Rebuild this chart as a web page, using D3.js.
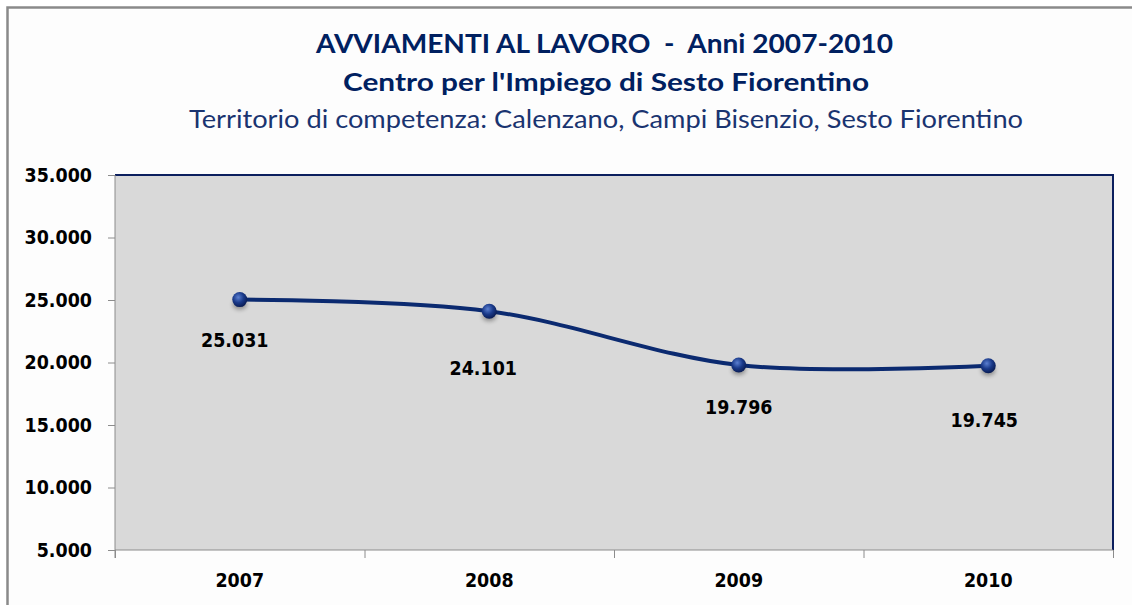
<!DOCTYPE html>
<html>
<head>
<meta charset="utf-8">
<script src="https://cdn.jsdelivr.net/npm/d3@7"></script>
<style>
  body { margin: 0; background: #fff; }
  svg { display: block; }
  .num { font-family: "DejaVu Sans", Verdana, sans-serif; font-weight: bold; font-size: 17.5px; fill: #000; }
  .title { white-space: pre; }
</style>
</head>
<body>
<div id="chart-area"></div>
<script>
// data
const years = ["2007", "2008", "2009", "2010"];
const avviamenti = [25031, 24101, 19796, 19745];
const yTicks = [5000, 10000, 15000, 20000, 25000, 30000, 35000];
const titles = [
  "AVVIAMENTI AL LAVORO  -  Anni 2007-2010",
  "Centro per l'Impiego di Sesto Fiorentino",
  "Territorio di competenza: Calenzano, Campi Bisenzio, Sesto Fiorentino"
];

// manual label placement (pixels relative to the point)
const labelDx = [-5, -6, 0, -4];
const labelDy = [40, 57, 42, 54];

const W = 1132, H = 605;
const margin = {left: 115, right: 19, top: 175, bottom: 55};
const width = W - margin.left - margin.right;
const height = H - margin.top - margin.bottom;
const stretch = "scale(1,1.15)"; // the original text is a bit taller than wide

const itFmt = d3.formatLocale({decimal: ",", thousands: ".", grouping: [3], currency: ["€", ""]}).format(",d");

const svg = d3.select("#chart-area").append("svg")
  .attr("width", W)
  .attr("height", H);

// gradient + shadow for the markers
const defs = svg.append("defs");
const grad = defs.append("radialGradient")
  .attr("id", "ball")
  .attr("cx", "40%").attr("cy", "35%").attr("r", "65%");
grad.append("stop").attr("offset", "0%").attr("stop-color", "#5b7fd0");
grad.append("stop").attr("offset", "55%").attr("stop-color", "#1a3a8a");
grad.append("stop").attr("offset", "100%").attr("stop-color", "#0a1d55");
const shadow = defs.append("filter").attr("id", "shadow")
  .attr("x", "-50%").attr("y", "-50%").attr("width", "200%").attr("height", "200%");
shadow.append("feGaussianBlur").attr("stdDeviation", 2.2);

// outer chart frame (only left and top visible)
svg.append("rect")
  .attr("x", 7.5).attr("y", 7.5)
  .attr("width", W + 20).attr("height", H + 20)
  .attr("fill", "#fdfdfd")
  .attr("stroke", "#8a8a8a")
  .attr("stroke-width", 2.5);

// titles
const titleStyle = [
  {y: 52.5, size: 27, weight: "bold", len: 577, x: 604.5, color: "#002060"},
  {y: 90.5, size: 25, weight: "bold", len: 526, x: 606, color: "#002060"},
  {y: 128, size: 25, weight: "normal", len: 834, x: 606, color: "#1a3470"}
];
titles.forEach((t, i) => {
  svg.append("text")
    .attr("class", "title")
    .attr("x", titleStyle[i].x)
    .attr("y", titleStyle[i].y)
    .attr("text-anchor", "middle")
    .attr("font-family", "Lato, 'Open Sans', sans-serif")
    .attr("font-size", titleStyle[i].size + "px")
    .attr("font-weight", titleStyle[i].weight)
    .attr("fill", titleStyle[i].color)
    .attr("textLength", titleStyle[i].len)
    .attr("lengthAdjust", "spacingAndGlyphs")
    .text(t);
});

const g = svg.append("g")
  .attr("transform", "translate(" + margin.left + "," + margin.top + ")");

// scales
const x = d3.scaleBand().domain(years).range([0, width]);
const xEdge = d3.scaleLinear().domain([0, years.length]).range([0, width]);
const y = d3.scaleLinear().domain([5000, 35000]).range([height, 0]);

// plot area
g.append("rect")
  .attr("width", width).attr("height", height)
  .attr("fill", "#d9d9d9");
g.append("path")
  .attr("d", "M0," + y(35000) + "H" + width + "V" + height)
  .attr("fill", "none")
  .attr("stroke", "#0c1f5e")
  .attr("stroke-width", 2);

// Y axis
const yAxis = d3.axisLeft(y)
  .tickValues(yTicks)
  .tickSize(7)
  .tickPadding(16)
  .tickFormat(itFmt);
const ya = g.append("g").call(yAxis);
ya.select(".domain").attr("stroke", "#8c8c8c").attr("d", "M0,0V" + (height + 8));
ya.selectAll(".tick line").attr("stroke", "#8c8c8c");
ya.selectAll(".tick text")
  .attr("class", "num").attr("font-size", null).attr("font-family", null)
  .attr("transform", stretch);

// X axis: labels centred in the bands, ticks on the band edges
const xAxis = d3.axisBottom(x).tickSize(0).tickPadding(20);
const xa = g.append("g")
  .attr("transform", "translate(0," + height + ")")
  .call(xAxis);
xa.select(".domain").remove();
xa.selectAll(".tick text")
  .attr("class", "num").attr("font-size", null).attr("font-family", null)
  .attr("transform", stretch);

const edgeAxis = d3.axisBottom(xEdge)
  .tickValues(d3.range(years.length + 1))
  .tickSize(8)
  .tickFormat("");
const ea = g.append("g")
  .attr("transform", "translate(0," + height + ")")
  .call(edgeAxis);
ea.select(".domain").attr("stroke", "#8c8c8c").attr("d", "M0,0H" + width);
ea.selectAll(".tick line").attr("stroke", "#8c8c8c");

// line
const cx = (d, i) => x(years[i]) + x.bandwidth() / 2;
const line = d3.line()
  .x(cx)
  .y(d => y(d))
  .curve(d3.curveCardinal.tension(0));
g.append("path")
  .datum(avviamenti)
  .attr("d", line)
  .attr("fill", "none")
  .attr("stroke", "#0b2a70")
  .attr("stroke-width", 4);

// markers
g.selectAll(".shadow")
  .data(avviamenti)
  .enter().append("ellipse")
    .attr("class", "shadow")
    .attr("cx", cx)
    .attr("cy", d => y(d) + 5)
    .attr("rx", 7).attr("ry", 5)
    .attr("fill", "#000")
    .attr("opacity", 0.35)
    .attr("filter", "url(#shadow)");
g.selectAll(".dot")
  .data(avviamenti)
  .enter().append("circle")
    .attr("class", "dot")
    .attr("cx", cx)
    .attr("cy", d => y(d))
    .attr("r", 7.5)
    .attr("fill", "url(#ball)");

// data labels
g.selectAll(".lbl")
  .data(avviamenti)
  .enter().append("text")
    .attr("class", "num")
    .attr("transform", (d, i) => "translate(" + (cx(d, i) + labelDx[i]) + "," + (y(d) + labelDy[i]) + ")" + stretch)
    .attr("dy", "0.36em")
    .attr("text-anchor", "middle")
    .text(d => itFmt(d));
</script>
</body>
</html>
